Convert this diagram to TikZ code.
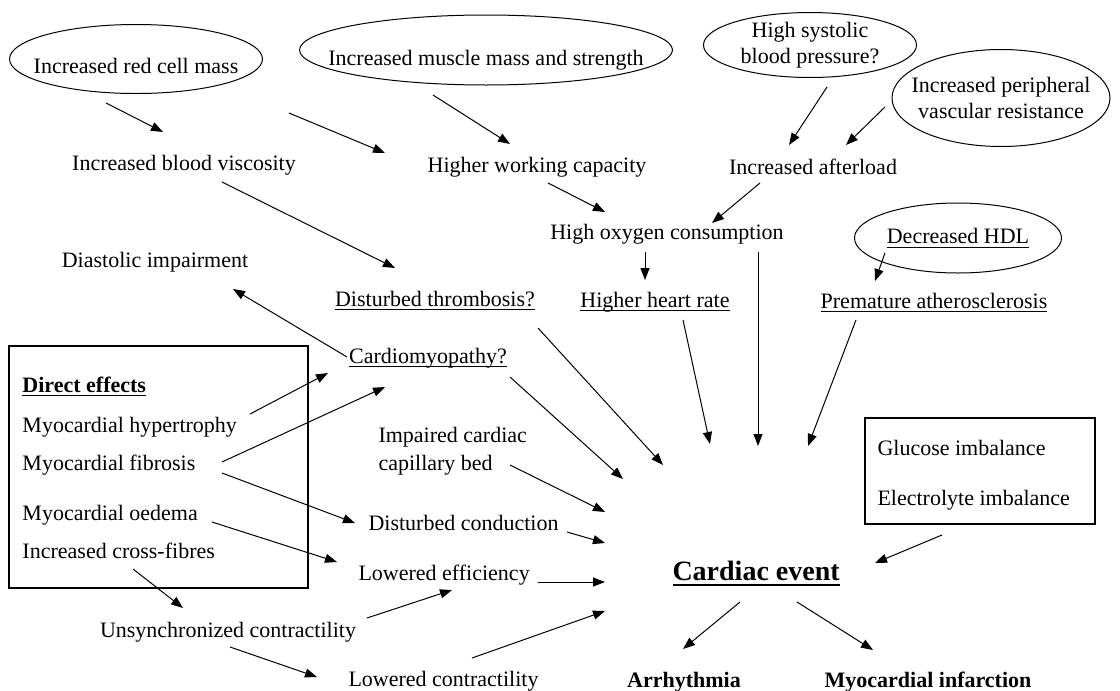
\documentclass[tikz,border=0pt]{standalone}
\usepackage{fontspec}
\setmainfont{Liberation Serif}
\usetikzlibrary{arrows.meta}
\usetikzlibrary{shapes.geometric}
\usetikzlibrary{calc}

% underline at a fixed depth below the baseline
\newcommand{\ulx}[3]{\setbox0=\hbox{#3}\rlap{\rule[-#1]{\wd0}{#2}}\box0}
\newcommand{\undl}[1]{\ulx{3.8pt}{0.9pt}{#1}}
% text that does not widen its ellipse
\newcommand{\nw}[1]{\makebox[0pt]{#1}}

\begin{document}
\begin{tikzpicture}[
            x = 1pt, y = -1pt, % pixel grid, y pointing down
            > = {Triangle[length=12pt, width=9pt]}, % arrow head style
            line width = 1pt,
            every node/.style = {inner sep=0pt, font=\fontsize{22}{26}\selectfont},
            cause/.style = {draw, ellipse, align=center},
            effect/.style = {anchor=base},
            item/.style = {anchor=base west},
            panel/.style = {draw, line width=1.2pt}
        ]

        \path[use as bounding box, fill=white] (0,0) rectangle (1120,691);

        % primary changes
        \node[cause, minimum width=253pt, minimum height=69pt, text height=29pt, text depth=0pt] (rcm) at (136,59) {\nw{Increased red cell mass}};
        \node[cause, minimum width=373pt, minimum height=70pt, text height=30pt, text depth=0pt] (mus) at (486,50) {\nw{Increased muscle mass and strength}};
        \node[cause, minimum width=213pt, minimum height=65pt] (sbp) at (810,45) {\nw{High systolic}\\\nw{blood pressure?}};
        \node[cause, minimum width=218pt, minimum height=97pt] (pvr) at (1001,98) {\nw{Increased peripheral}\\\nw{vascular resistance}};
        \node[cause, minimum width=207pt, minimum height=70pt] (hdl) at (958,238) {\nw{\undl{Decreased HDL}}};

        % intermediate effects
        \node[effect] (bv) at (184,170) {Increased blood viscosity};
        \node[effect] (hwc) at (537,172) {Higher working capacity};
        \node[effect] (afl) at (813,174) {Increased afterload};
        \node[effect] (oxy) at (667,239) {High oxygen consumption};
        \node[effect] (dia) at (155,267) {Diastolic impairment};
        \node[effect] (thr) at (435,306) {\undl{Disturbed thrombosis?}};
        \node[effect] (hhr) at (655,307) {\undl{Higher heart rate}};
        \node[effect] (ath) at (934,308) {\undl{Premature atherosclerosis}};
        \node[effect] (cmp) at (428,363) {\undl{Cardiomyopathy?}};
        \node[anchor=north west, align=left] (cap) at (378,427) {Impaired cardiac\\[2pt]capillary bed};
        \node[item] (con) at (368,530) {Disturbed conduction};
        \node[item] (eff) at (358,580) {Lowered efficiency};
        \node[effect] (uns) at (228,637) {Unsynchronized contractility};
        \node[item] (lco) at (348,686) {Lowered contractility};

        % direct effects
        \node[panel, minimum width=299pt, minimum height=242pt] (direct) at (158.5,467) {};
        \node[item] (de) at (22,392) {\ulx{4pt}{1.4pt}{\bfseries Direct effects}};
        \node[item] (hyp) at (22,432) {Myocardial hypertrophy};
        \node[item] (fib) at (22,470) {Myocardial fibrosis};
        \node[item] (oed) at (22,520) {Myocardial oedema};
        \node[item] (crs) at (22,558) {Increased cross-fibres};

        % metabolic
        \node[panel, minimum width=230pt, minimum height=106pt] (rbox) at (980,471) {};
        \node[item] (glu) at (877,455) {Glucose imbalance};
        \node[item] (ely) at (877,505) {Electrolyte imbalance};

        % outcome
        \node[item, font=\bfseries\fontsize{28}{32}\selectfont] (ce) at (672,580) {\ulx{6pt}{1.8pt}{Cardiac event}};
        \node[effect, font=\bfseries\fontsize{22}{26}\selectfont] (arr) at (684,687) {Arrhythmia};
        \node[effect, font=\bfseries\fontsize{22}{26}\selectfont] (mi) at (928,687) {Myocardial infarction};

        % upper chain
        \draw[->] ($(rcm)+(-30,44)$) -- ($(bv.base)+(-21,-38)$);
        \draw[->] ($(rcm)+(153,54)$) -- ($(hwc.base)+(-152,-19)$);
        \draw[->] ($(mus)+(-53,45)$) -- ($(hwc.base)+(-27,-28)$);
        \draw[->] ($(hwc.base)+(11,11)$) -- ($(oxy.base)+(-62,-27)$);
        \draw[->] ($(sbp)+(17,42)$) -- ($(afl.base)+(-24,-29)$);
        \draw[->] ($(pvr)+(-116,9)$) -- ($(afl.base)+(33,-29)$);
        \draw[->] ($(afl.base)+(-53,9)$) -- ($(oxy.base)+(45,-16)$);
        \draw[->] ($(bv.base)+(38,12)$) -- ($(thr.base)+(-40,-38)$);
        \draw[->] ($(oxy.base)+(-22,13)$) -- ($(hhr.base)+(-10,-27)$);
        \draw[->] ($(hdl)+(-73,15)$) -- ($(ath.base)+(-59,-27)$);

        % into cardiac event
        \draw[->] ($(oxy.base)+(91,13)$) -- ($(ce.base west)+(86,-134)$);
        \draw[->] ($(ath.base)+(-78,12)$) -- ($(ce.base west)+(136,-134)$);
        \draw[->] ($(hhr.base)+(28,13)$) -- ($(ce.base west)+(38,-136)$);
        \draw[->] ($(thr.base)+(103,22)$) -- ($(ce.base west)+(-9,-115)$);
        \draw[->] ($(cmp.base)+(82,14)$) -- ($(ce.base west)+(-49,-101)$);
        \draw[->] ($(cap.north west)+(132,38)$) -- ($(ce.base west)+(-67,-68)$);
        \draw[->] ($(con.base west)+(199,2)$) -- ($(ce.base west)+(-67,-37)$);
        \draw[->] ($(eff.base west)+(180,2)$) -- ($(ce.base west)+(-67,2)$);
        \draw[->] ($(lco.base west)+(124,-28)$) -- ($(ce.base west)+(-67,31)$);
        \draw[->] ($(rbox)+(-38,64)$) -- ($(ce.base west)+(203,-17)$);

        % direct effects
        \draw[->] ($(cmp.base)+(-81,-6)$) -- ($(dia.base)+(78,22)$);
        \draw[->] ($(hyp.base west)+(228,-18)$) -- ($(cmp.base)+(-100,10)$);
        \draw[->] ($(fib.base west)+(200,-8)$) -- ($(cmp.base)+(-43,24)$);
        \draw[->] ($(fib.base west)+(200,3)$) -- ($(con.base west)+(-13,-7)$);
        \draw[->] ($(oed.base west)+(190,2)$) -- ($(eff.base west)+(-21,-18)$);
        \draw[->] ($(crs.base west)+(111,11)$) -- ($(uns.base)+(-45,-29)$);
        \draw[->] ($(uns.base)+(139,-19)$) -- ($(eff.base west)+(94,10)$);
        \draw[->] ($(uns.base)+(2,10)$) -- ($(lco.base west)+(-31,-9)$);

        % outcomes
        \draw[->] ($(ce.base west)+(68,22)$) -- ($(arr.base)+(-1,-38)$);
        \draw[->] ($(ce.base west)+(125,22)$) -- ($(mi.base)+(-55,-37)$);

\end{tikzpicture}
\end{document}
